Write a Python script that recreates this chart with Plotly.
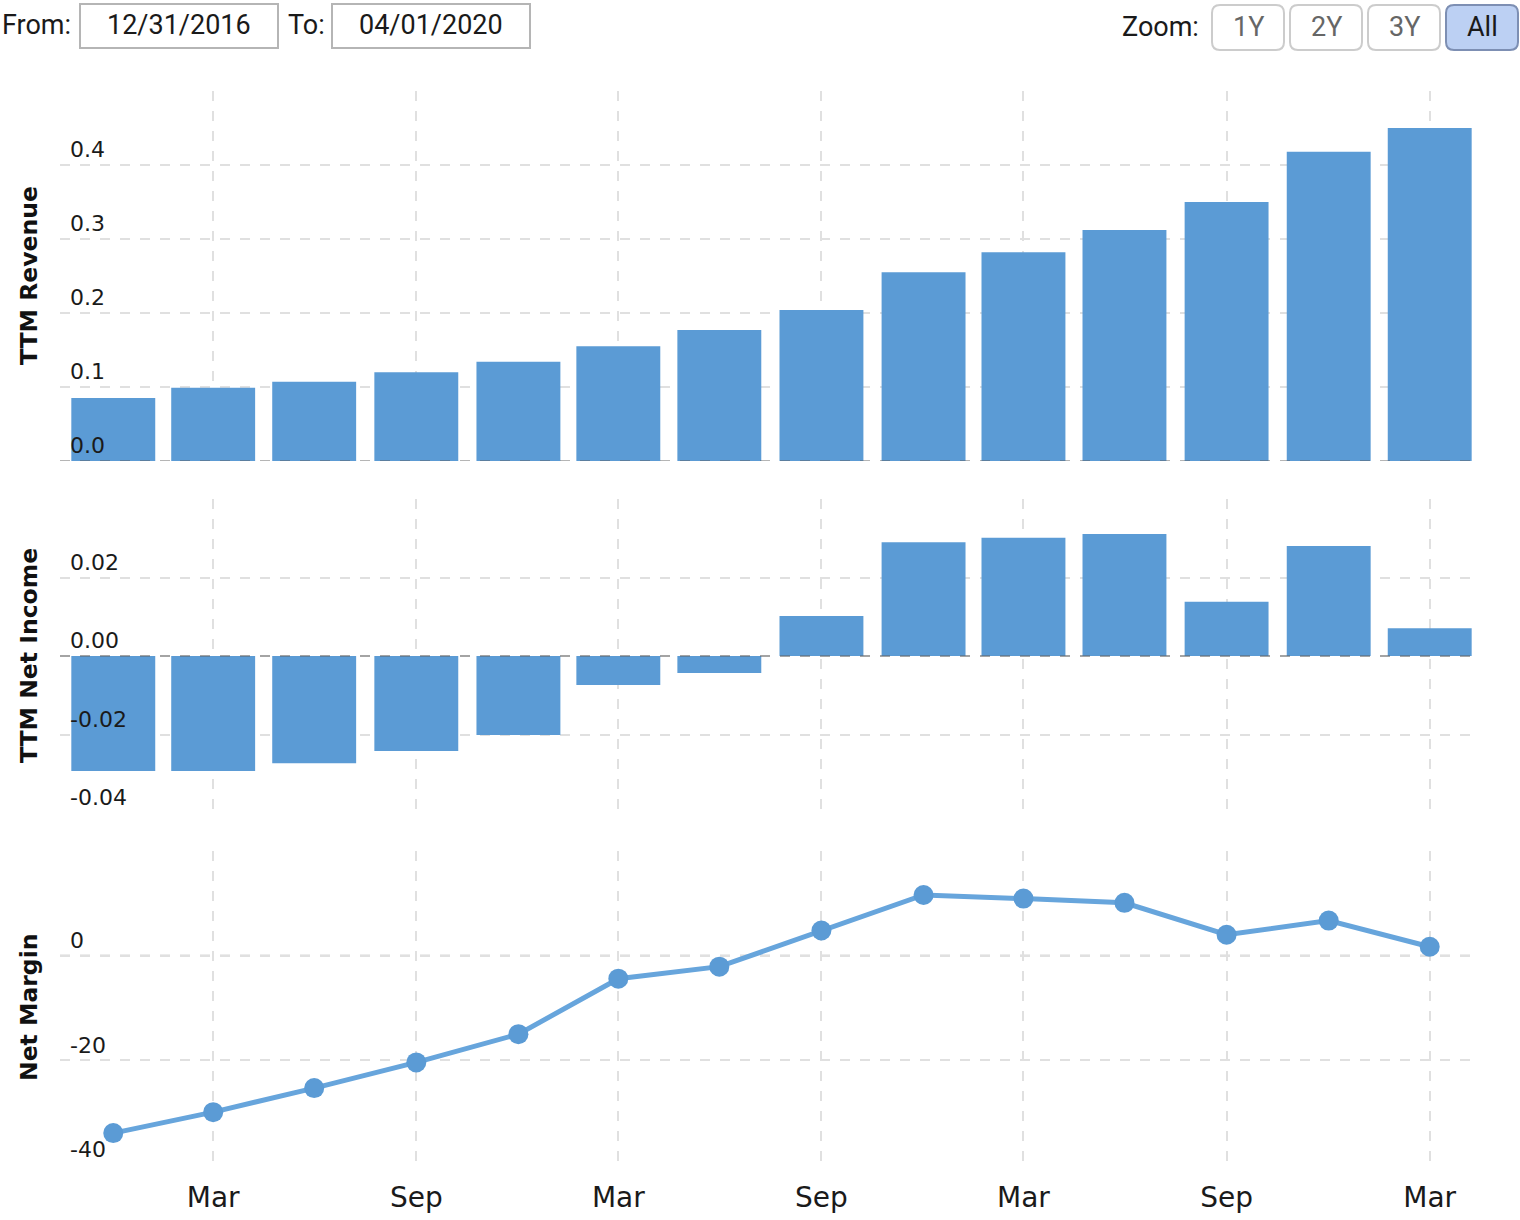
import plotly.graph_objects as go
from plotly.subplots import make_subplots

# ---------------- data ----------------
dates = ["2016-12-31", "2017-03-31", "2017-06-30", "2017-09-30", "2017-12-31",
         "2018-03-31", "2018-06-30", "2018-09-30", "2018-12-31", "2019-03-31",
         "2019-06-30", "2019-09-30", "2019-12-31", "2020-03-31"]
ttm_revenue = [0.085, 0.099, 0.107, 0.120, 0.134, 0.155, 0.177, 0.204, 0.255,
               0.282, 0.312, 0.350, 0.418, 0.450]
ttm_net_income = [-0.0293, -0.0293, -0.0273, -0.0242, -0.0201, -0.0074, -0.0043,
                  0.0102, 0.0290, 0.0301, 0.0311, 0.0138, 0.0280, 0.0071]
net_margin = [-33.9, -29.9, -25.3, -20.4, -15.0, -4.4, -2.1, 4.8, 11.6, 10.9,
              10.1, 4.0, 6.7, 1.7]

x_tick_dates = ["2017-03-31", "2017-09-30", "2018-03-31", "2018-09-30",
                "2019-03-31", "2019-09-30", "2020-03-31"]
x_tick_text = ["Mar", "Sep", "Mar", "Sep", "Mar", "Sep", "Mar"]

rev_ticks = [0, 0.1, 0.2, 0.3, 0.4, 0.5]
rev_tick_text = ["0.0", "0.1", "0.2", "0.3", "0.4", ""]
ni_ticks = [-0.04, -0.02, 0.0, 0.02, 0.04]
ni_tick_text = ["-0.04", "-0.02", "0.00", "0.02", ""]
nm_ticks = [-40, -20, 0, 20]
nm_tick_text = ["-40", "-20", "0", ""]

from_date = "12/31/2016"
to_date = "04/01/2020"
zoom_buttons = ["1Y", "2Y", "3Y", "All"]

# ---------------- styling ----------------
W, H = 1520, 1220
ML, MR, MT, MB = 60, 47, 91, 55
PW, PH = W - ML - MR, H - MT - MB
BAR = "#5b9bd5"
LINE = "#67a5dc"
GRID = "#e0e0e0"
DASH = "10px,10px"
ZERO = "rgba(90,90,90,0.45)"
TICKFONT = dict(family="DejaVu Sans", size=22, color="#1a1a1a")
UIFONT = "Roboto"


def px(p):
    return (p - ML) / PW


def py(p):
    return (H - MB - p) / PH


def dom(top, bottom):
    return [py(bottom), py(top)]


BAR_W = 75.6 * 86400000

fig = make_subplots(rows=3, cols=1, shared_xaxes=True)
fig.add_trace(go.Bar(x=dates, y=ttm_revenue, width=BAR_W, marker_color=BAR,
                     marker_line_width=0), row=1, col=1)
fig.add_trace(go.Bar(x=dates, y=ttm_net_income, width=BAR_W, marker_color=BAR,
                     marker_line_width=0), row=2, col=1)
fig.add_trace(go.Scatter(x=dates, y=net_margin, mode="lines+markers",
                         line=dict(color=LINE, width=5),
                         marker=dict(color=BAR, size=20)), row=3, col=1)

xcommon = dict(range=["2016-11-13", "2020-05-09"], showgrid=True, gridcolor=GRID,
               griddash=DASH, gridwidth=2, tickmode="array",
               tickvals=x_tick_dates, ticktext=x_tick_text, zeroline=False,
               showline=False, ticks="", ticklabelstandoff=13, automargin=False,
               tickfont=dict(family="DejaVu Sans", size=28, color="#1a1a1a"))
fig.update_xaxes(**xcommon)

ycommon = dict(showgrid=True, gridcolor=GRID, griddash=DASH, gridwidth=2,
               zeroline=False, showline=False, ticks="", tickmode="array",
               ticklabelposition="inside top", ticklabelstandoff=7,
               automargin=False, tickfont=TICKFONT)
fig.update_yaxes(**ycommon)
fig.update_layout(
    yaxis=dict(domain=dom(91, 461), range=[0, 0.5], tickvals=rev_ticks,
               ticktext=rev_tick_text),
    yaxis2=dict(domain=dom(499, 813), range=[-0.04, 0.04], tickvals=ni_ticks,
                ticktext=ni_tick_text),
    yaxis3=dict(domain=dom(851, 1165), range=[-40, 20], tickvals=nm_ticks,
                ticktext=nm_tick_text),
)

shapes = []
for yr, layer in (("y", "above"), ("y2", "above"), ("y3", "below")):
    xr = "x" if yr == "y" else "x" + yr[1:]
    shapes.append(dict(type="line", xref=xr + " domain", x0=0, x1=1, yref=yr,
                       y0=0, y1=0, layer=layer,
                       line=dict(color=ZERO, width=2, dash=DASH)))


def rect(x0, y0, x1, y1, line_color, fill, r=0, lw=2):
    if r == 0:
        path = (f"M{px(x0)},{py(y0)} L{px(x1)},{py(y0)} L{px(x1)},{py(y1)} "
                f"L{px(x0)},{py(y1)} Z")
    else:
        path = (f"M{px(x0 + r)},{py(y0)} L{px(x1 - r)},{py(y0)} "
                f"Q{px(x1)},{py(y0)} {px(x1)},{py(y0 + r)} "
                f"L{px(x1)},{py(y1 - r)} Q{px(x1)},{py(y1)} {px(x1 - r)},{py(y1)} "
                f"L{px(x0 + r)},{py(y1)} Q{px(x0)},{py(y1)} {px(x0)},{py(y1 - r)} "
                f"L{px(x0)},{py(y0 + r)} Q{px(x0)},{py(y0)} {px(x0 + r)},{py(y0)} Z")
    return dict(type="path", xref="paper", yref="paper", path=path,
                line=dict(color=line_color, width=lw), fillcolor=fill, layer="above")


annotations = []


def text(t, x, y, anchor="left", size=27, color="#1a1a1a", family=UIFONT):
    annotations.append(dict(text=t, x=px(x), y=py(y), xref="paper", yref="paper",
                            xanchor=anchor, yanchor="middle", showarrow=False,
                            font=dict(family=family, size=size, color=color)))


# date range inputs
text("From:", 0, 25)
shapes.append(rect(80, 4, 278, 48, "#b5b5b5", "white"))
text(from_date, 179, 25, "center")
text("To:", 286, 25)
shapes.append(rect(332, 4, 530, 48, "#b5b5b5", "white"))
text(to_date, 431, 25, "center")

# zoom buttons
text("Zoom:", 1120, 27)
bx = [1212, 1290, 1368, 1446]
for i, (lab, x0) in enumerate(zip(zoom_buttons, bx)):
    active = lab == "All"
    shapes.append(rect(x0, 5, x0 + 72, 50, "#7d8fb3" if active else "#cccccc",
                       "#bcd0f3" if active else "white", r=8))
    text(lab, x0 + 36, 27, "center", color="#1a1a1a" if active else "#666666")

# y axis titles
for t, yc in (("TTM Revenue", 276), ("TTM Net Income", 656), ("Net Margin", 1008)):
    annotations.append(dict(text=f"<b>{t}</b>", x=px(29), y=py(yc), xref="paper",
                            yref="paper", xanchor="center", yanchor="middle",
                            textangle=-90, showarrow=False,
                            font=dict(family="DejaVu Sans", size=23.5, color="#111")))

fig.update_layout(width=W, height=H, margin=dict(l=ML, r=MR, t=MT, b=MB),
                  plot_bgcolor="white", paper_bgcolor="white", showlegend=False,
                  shapes=shapes, annotations=annotations)

fig.write_html("out.html")
